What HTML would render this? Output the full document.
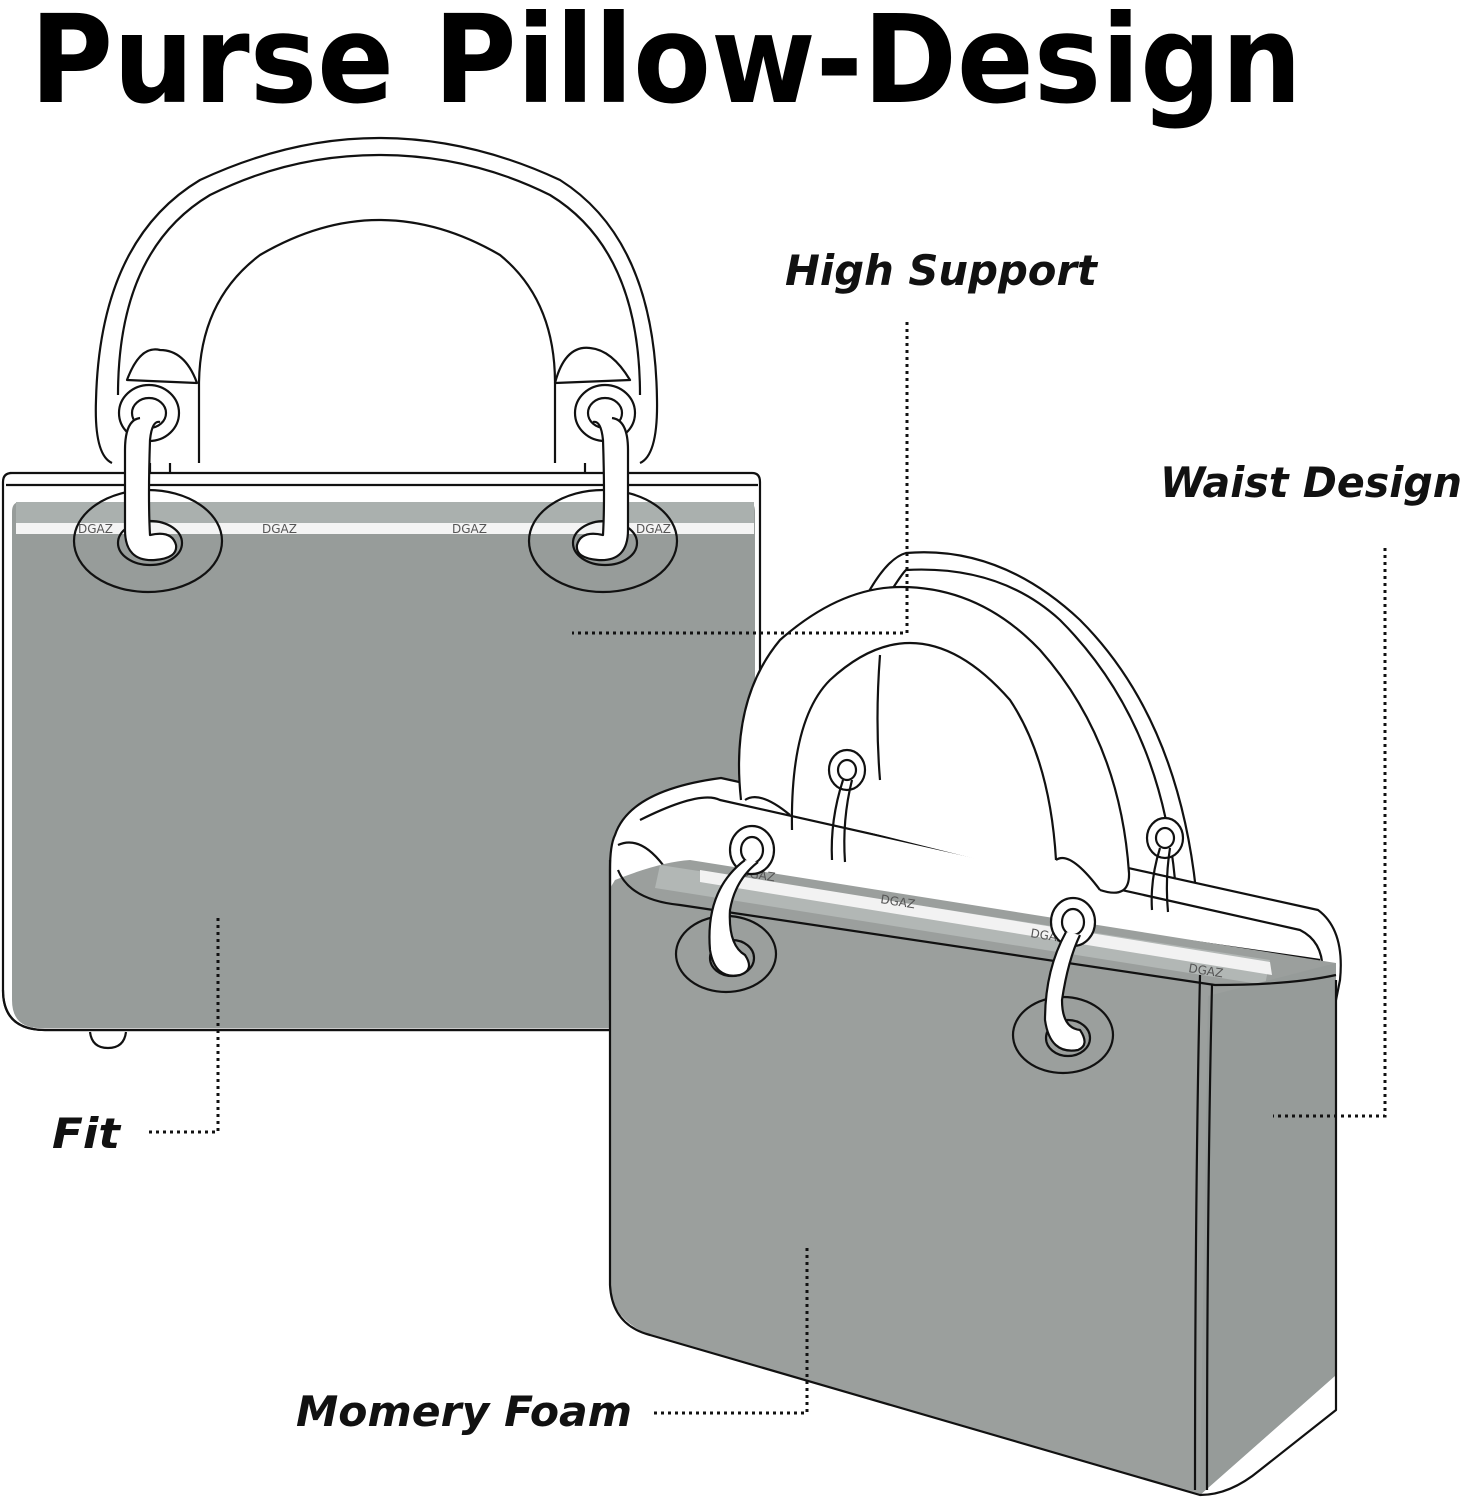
<!DOCTYPE html>
<html><head><meta charset="utf-8"><style>
html,body{margin:0;padding:0;background:#fff;}
svg{display:block;}
</style></head><body>
<svg width="1467" height="1500" viewBox="0 0 1467 1500" xmlns="http://www.w3.org/2000/svg">
<rect width="1467" height="1500" fill="#fff"/>
<text x="30" y="102" font-family="DejaVu Sans, Liberation Sans, sans-serif" font-weight="bold" font-size="122" textLength="1272" lengthAdjust="spacingAndGlyphs">Purse Pillow-Design</text>

<g stroke="#111" stroke-width="2.2" fill="none" stroke-linejoin="round">
<!-- LEFT BAG -->
<path d="M10 473 H752 Q760 473 760 482 V1030 H45 Q3 1030 3 990 V482 Q3 473 12 473 Z" fill="#fff"/>
<line x1="6" y1="485" x2="758" y2="485"/>
<path d="M20 502 H748 Q755 502 755 512 V1028 H40 Q12 1028 12 1000 V512 Q12 502 20 502 Z" fill="#979c9a" stroke="none"/>
<rect x="16" y="502" width="738" height="22" fill="#aab0ae" stroke="none"/>
<rect x="16" y="523" width="738" height="11" fill="#f4f4f4" stroke="none"/>
<path d="M3 990 Q3 1030 45 1030 H760" />
<path d="M90 1032 Q92 1048 108 1048 Q124 1048 126 1032" fill="#fff"/>
<g font-family="DejaVu Sans, sans-serif" font-size="12" fill="#555" stroke="none">
<text x="78" y="533">DGAZ</text><text x="262" y="533">DGAZ</text><text x="452" y="533">DGAZ</text><text x="636" y="533">DGAZ</text></g>
<!-- handle left bag -->
<path d="M112 463 Q94 455 96 400 Q100 240 200 180 Q290 138 379 138 Q470 138 560 180 Q655 240 657 400 Q658 455 640 463" fill="#fff"/>
<path d="M118 395 Q118 250 210 195 Q290 155 379 155 Q470 155 550 195 Q640 250 640 395"/>
<path d="M199 463 V383 Q200 300 260 255 Q320 220 379 220 Q440 220 500 255 Q555 300 555 383 V463"/>
<path d="M127 380 Q140 345 160 350 Q185 350 197 383 Z" fill="#fff"/>
<path d="M555 383 Q565 345 590 348 Q612 350 630 380 Z" fill="#fff"/>
<line x1="150" y1="463" x2="150" y2="473"/><line x1="170" y1="463" x2="170" y2="473"/>
<line x1="585" y1="463" x2="585" y2="473"/><line x1="605" y1="463" x2="605" y2="473"/>
<ellipse cx="149" cy="413" rx="30" ry="28" fill="#fff"/><ellipse cx="149" cy="413" rx="17" ry="15"/>
<ellipse cx="605" cy="413" rx="30" ry="28" fill="#fff"/><ellipse cx="605" cy="413" rx="17" ry="15"/>
<!-- grommets -->
<ellipse cx="148" cy="541" rx="74" ry="51"/><ellipse cx="150" cy="543" rx="32" ry="22"/>
<ellipse cx="603" cy="541" rx="74" ry="51"/><ellipse cx="605" cy="543" rx="32" ry="22"/>
<!-- links -->
<path d="M140 418 Q125 420 125 450 V530 Q125 562 155 560 Q178 558 176 545 Q172 530 150 535 Q148 500 150 440 Q152 420 160 422" fill="#fff"/>
<path d="M612 418 Q628 420 628 450 V530 Q628 562 598 560 Q575 558 577 545 Q581 530 603 535 Q605 500 603 440 Q601 420 593 422" fill="#fff"/>

<!-- RIGHT BAG -->
<path d="M848 770 Q830 700 850 630 Q880 560 906 553 Q1000 545 1080 620 Q1180 720 1197 900" fill="#fff"/>
<path d="M862 638 Q900 575 906 570 Q1000 565 1060 620 Q1160 720 1175 880"/>
<path d="M615 835 Q630 790 721 778 L1318 910 Q1345 930 1340 980 L1336 1000 H610 V870 Q610 845 615 835 Z" fill="#fff"/>
<path d="M618 845 Q640 835 663 865 L1320 960"/>
<path d="M640 820 Q700 790 720 800 L1300 930 Q1330 945 1320 990"/>
<path d="M615 880 Q660 862 690 860 L1336 963 V1375 L1200 1495 L650 1335 Q612 1320 609 1285 V890 Z" fill="#9b9f9d" stroke="none"/>
<path d="M660 865 L1270 960 L1265 985 L655 888 Z" fill="#b2b7b5" stroke="none"/>
<path d="M700 870 L1270 962 L1272 975 L700 882 Z" fill="#f2f2f2" stroke="none"/>
<path d="M1208 996 L1336 963 V1375 L1200 1495 Z" fill="#969b99" stroke="none"/>
<path d="M610 860 V1285 Q612 1325 650 1335 L1200 1495 Q1230 1495 1260 1470 L1336 1410 V980"/>
<path d="M1200 975 Q1195 1200 1195 1490"/>
<path d="M1212 985 Q1207 1200 1207 1490"/>
<path d="M618 870 Q630 900 680 905 L1215 985 Q1290 985 1336 975"/>
<g font-family="DejaVu Sans, sans-serif" font-size="12" fill="#555" stroke="none">
<text transform="translate(880 903) rotate(9)">DGAZ</text><text transform="translate(740 876) rotate(9)">DGAZ</text>
<text transform="translate(1030 937) rotate(9)">DGAZ</text><text transform="translate(1188 972) rotate(9)">DGAZ</text></g>
<path d="M741 800 Q730 700 780 640 Q840 587 901 587 Q980 587 1040 650 Q1120 740 1129 873 Q1130 900 1100 890" fill="#fff"/>
<path d="M792 830 Q790 720 830 680 Q870 643 910 643 Q960 643 1010 700 Q1050 760 1056 860"/>
<path d="M745 800 Q760 790 790 815"/>
<path d="M1056 860 Q1070 850 1100 890"/>
<path d="M880 655 Q875 720 880 780" />
<ellipse cx="847" cy="770" rx="18" ry="20" fill="#fff"/><ellipse cx="847" cy="770" rx="9" ry="10"/>
<path d="M843 780 Q830 820 832 860 M852 780 Q842 820 845 862"/>
<ellipse cx="1165" cy="838" rx="18" ry="20" fill="#fff"/><ellipse cx="1165" cy="838" rx="9" ry="10"/>
<path d="M1160 848 Q1150 880 1152 910 M1170 848 Q1165 880 1168 912"/>
<ellipse cx="752" cy="850" rx="22" ry="24" fill="#fff"/><ellipse cx="752" cy="850" rx="11" ry="13"/>
<ellipse cx="1073" cy="922" rx="22" ry="24" fill="#fff"/><ellipse cx="1073" cy="922" rx="11" ry="13"/>
<ellipse cx="726" cy="954" rx="50" ry="38"/><ellipse cx="732" cy="958" rx="22" ry="18"/>
<ellipse cx="1063" cy="1035" rx="50" ry="38"/><ellipse cx="1068" cy="1038" rx="22" ry="18"/>
<path d="M745 860 Q705 890 710 950 Q715 980 740 975 Q755 970 745 955 Q728 945 730 910 Q735 880 758 862" fill="#fff"/>
<path d="M1066 932 Q1045 970 1045 1020 Q1050 1055 1078 1050 Q1090 1045 1080 1030 Q1062 1028 1062 1000 Q1068 960 1080 935" fill="#fff"/>
</g>

<g stroke="#111" stroke-width="3" stroke-dasharray="3 4" fill="none">
<path d="M907 322 V633 H572"/>
<path d="M1385 548 V1116 H1273"/>
<path d="M218 918 V1132 H146"/>
<path d="M807 1248 V1413 H652"/>
</g>
<g font-family="DejaVu Sans, Liberation Sans, sans-serif" font-weight="bold" font-style="italic" font-size="42" fill="#111">
<text x="785" y="285" textLength="312" lengthAdjust="spacingAndGlyphs">High Support</text>
<text x="1160" y="497" textLength="302" lengthAdjust="spacingAndGlyphs">Waist Design</text>
<text x="52" y="1148" textLength="68" lengthAdjust="spacingAndGlyphs">Fit</text>
<text x="296" y="1426" textLength="336" lengthAdjust="spacingAndGlyphs">Momery Foam</text>
</g>
</svg>
</body></html>
